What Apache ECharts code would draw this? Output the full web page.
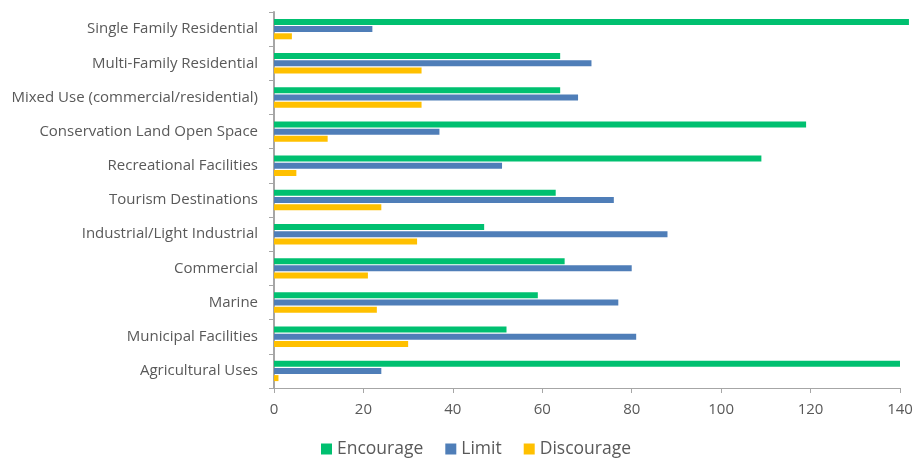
<!DOCTYPE html>
<html><head><meta charset="utf-8">
<script src="https://cdn.jsdelivr.net/npm/echarts@6/dist/echarts.min.js"></script>
<style>html,body{margin:0;padding:0;background:#fff}#c{width:916px;height:461px}</style>
</head><body><div id="c"></div>
<script>
const categories = ["Single Family Residential","Multi-Family Residential","Mixed Use (commercial/residential)","Conservation Land Open Space","Recreational Facilities","Tourism Destinations","Industrial/Light Industrial","Commercial","Marine","Municipal Facilities","Agricultural Uses"];
const encourage = [142,64,64,119,109,63,47,65,59,52,140];
const limit = [22,71,68,37,51,76,88,80,77,81,24];
const discourage = [4,33,33,12,5,24,32,21,23,30,1];
const xTicks = [0,20,40,60,80,100,120,140];

const font = "Open Sans";
const chart = echarts.init(document.getElementById('c'));
const mk = (name, data, color) => ({
  name, type:'bar', data, clip:false,
  barWidth:6, barGap:'20%',
  itemStyle:{color}, emphasis:{disabled:true}
});
chart.setOption({
  animation:false,
  textStyle:{fontFamily:font},
  grid:{left:274,right:16,top:12,bottom:73,containLabel:false},
  legend:{top:435,left:316,itemWidth:11,itemHeight:11,itemGap:22,icon:'rect',
    textStyle:{fontSize:17.5,color:'#595959',fontFamily:font},
    data:['Encourage','Limit','Discourage']},
  xAxis:{type:'value',min:xTicks[0],max:xTicks[xTicks.length-1],interval:20,
    axisLine:{show:true,lineStyle:{color:'#a6a6a6',width:1}},
    axisTick:{show:true,length:5,lineStyle:{color:'#a6a6a6'}},
    splitLine:{show:false},
    axisLabel:{color:'#595959',fontSize:15,margin:14}},
  yAxis:{type:'category',data:categories,inverse:true,
    axisLine:{show:true,lineStyle:{color:'#a6a6a6',width:2}},
    axisTick:{show:true,length:5,lineStyle:{color:'#a6a6a6'}},
    axisLabel:{color:'#595959',fontSize:15,margin:16}},
  series:[mk('Encourage',encourage,'#00C070'),mk('Limit',limit,'#4F7EB8'),mk('Discourage',discourage,'#FFC000')]
});
</script></body></html>
